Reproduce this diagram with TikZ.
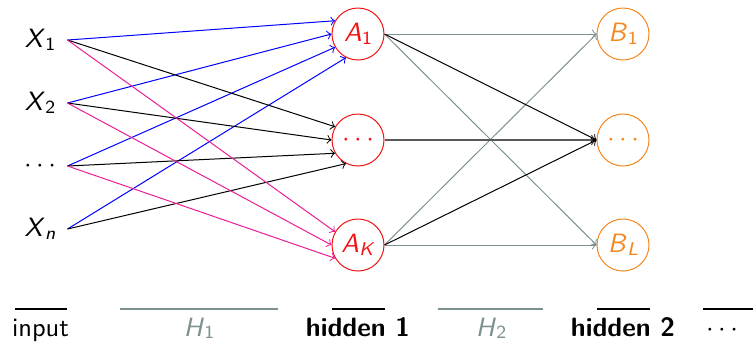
\documentclass[tikz,border=0pt]{standalone}
\usepackage{fontspec}
\definecolor{eblue}{RGB}{0,0,255}
\definecolor{epink}{RGB}{235,30,150}
\definecolor{egray}{RGB}{125,145,145}
\definecolor{eorange}{RGB}{245,135,30}
\definecolor{ered}{RGB}{240,20,20}
\newcommand\sv[2]{\textsl{#1}\kern0.2pt\raisebox{-1pt}{\fontsize{7.4}{8}\selectfont #2}}
\begin{document}
\begin{tikzpicture}[x=0.4pt,y=-0.4pt,
  every node/.style={font=\fontsize{10.6}{12.7}\selectfont\sffamily},
  inp/.style={minimum width=21.6pt, inner sep=0pt},
  hid/.style={circle, draw=ered, text=ered, minimum size=20.8pt, inner sep=0pt, line width=0.4pt},
  outp/.style={circle, draw=eorange, text=eorange, minimum size=20.8pt, inner sep=0pt, line width=0.4pt},
  edge/.style={->, line width=0.4pt},
  lbl/.style={anchor=base, inner sep=0pt},
  bar/.style={line width=0.45pt}]
\useasboundingbox (0,0) rectangle (753,343);
% input nodes
\node[inp] (x1) at (40,40) {\sv{X}{1}};
\node[inp] (x2) at (40,103) {\sv{X}{2}};
\node[inp] (x3) at (40,166) {$\cdots$};
\node[inp] (xn) at (40,229) {\sv{X}{\textsl{n}}};
% hidden 1
\node[hid] (a1) at (358,34) {\sv{A}{1}};
\node[hid] (a2) at (358,140) {$\cdots$};
\node[hid] (ak) at (358,245) {\sv{A}{\textsl{K}}};
% hidden 2
\node[outp] (b1) at (623,34) {\sv{B}{1}};
\node[outp] (b2) at (623,140) {$\cdots$};
\node[outp] (bl) at (623,245) {\sv{B}{\textsl{L}}};
% input -> hidden 1
\draw[edge, eblue] (x1.east) -- (a1.150);
\draw[edge, eblue] (x2.east) -- (a1.180);
\draw[edge, eblue] (x3.east) -- (a1.210);
\draw[edge, eblue] (xn.east) -- (a1.243);
\draw[edge, black] (x1.east) -- (a2.150);
\draw[edge, black] (x2.east) -- (a2.180);
\draw[edge, black] (x3.east) -- (a2.210);
\draw[edge, black] (xn.east) -- (a2.243);
\draw[edge, epink] (x1.east) -- (ak.150);
\draw[edge, epink] (x2.east) -- (ak.180);
\draw[edge, epink] (x3.east) -- (ak.210);
% hidden 1 -> hidden 2
\draw[edge, egray] (a1.east) -- (b1.west);
\draw[edge, egray] (a1.east) -- (bl.west);
\draw[edge, egray] (ak.east) -- (b1.west);
\draw[edge, egray] (ak.east) -- (bl.west);
\draw[edge, black!65, line width=0.6pt] (a2.east) -- (b2.west);
\draw[edge, black] (a1.east) -- (b2.west);
\draw[edge, black] (ak.east) -- (b2.west);
% bottom labels
\node[lbl] (l1) at (40.5,336) {input};
\node[lbl, text=egray] (l2) at (199,336) {\sv{H}{1}};
\node[lbl] (l3) at (358,336) {\bfseries hidden 1};
\node[lbl, text=egray] (l4) at (491,336) {\sv{H}{2}};
\node[lbl] (l5) at (623,336) {\bfseries hidden 2};
\node[lbl] (l6) at (722,336) {$\cdots$};
\draw[bar] (15,309) -- (67,309);
\draw[bar, egray] (120,309) -- (278,309);
\draw[bar] (332,309) -- (385,309);
\draw[bar, egray] (438,309) -- (543,309);
\draw[bar] (597,309) -- (650,309);
\draw[bar] (703,309) -- (753,309);
\end{tikzpicture}
\end{document}
